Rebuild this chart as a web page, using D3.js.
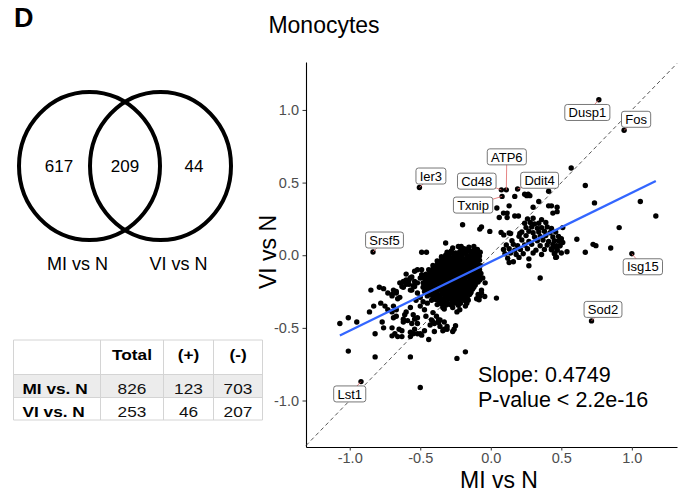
<!DOCTYPE html>
<html>
<head>
<meta charset="utf-8">
<script src="https://cdn.jsdelivr.net/npm/d3@7"></script>
<style>
  body { margin: 0; background: #fff; }
  svg { display: block; }
  text { font-family: "Liberation Sans", Arial, Helvetica, sans-serif; }
</style>
</head>
<body>
<svg id="fig" width="684" height="494"></svg>
<script>
// ---------------- data ----------------
const panelLetter = "D";
const plotTitle = "Monocytes";

// Venn: MI-only, shared, VI-only DEG counts
const vennSets = ["MI vs N", "VI vs N"];
const vennCounts = [617, 209, 44];

// DEG summary table
const tableHeader = ["", "Total", "(+)", "(-)"];
const tableRowNames = ["MI vs. N", "VI vs. N"];
const tableTotal = [826, 253];
const tableUp = [123, 46];
const tableDown = [703, 207];

// axis ticks
const axisTicks = [-1.0, -0.5, 0.0, 0.5, 1.0];
const xTitle = "MI vs N";
const yTitle = "VI vs N";

// linear fit of VI vs N on MI vs N
const fitSlope = 0.4749;
const fitIntercept = -0.045;
const fitText = ["Slope: 0.4749", "P-value < 2.2e-16"];

// labelled genes: [gene, log2FC MI vs N, log2FC VI vs N]
const labeledGenes = [
  ["Dusp1", 0.766, 1.07],
  ["Fos", 0.945, 0.86],
  ["ATP6", 0.11, 0.45],
  ["Cd48", 0.075, 0.45],
  ["Txnip", 0.08, 0.405],
  ["Ddit4", 0.19, 0.456],
  ["Ier3", -0.506, 0.466],
  ["Srsf5", -0.835, 0.022],
  ["Isg15", 1.0, 0.01],
  ["Sod2", 0.714, -0.452],
  ["Lst1", -0.92, -0.87]
];

// down-regulated core of shared genes: [MI vs N, VI vs N]
const coreGenes = [
  [-0.27,0.05],[-0.23,0.06],[-0.19,0.045],[-0.155,0.055],[-0.12,0.06],[-0.095,0.04],
  [-0.31,0.02],[-0.28,0.03],[-0.25,0.015],[-0.22,0.025],[-0.19,0.02],[-0.16,0.03],[-0.13,0.015],[-0.10,0.025],[-0.075,0.02],
  [-0.35,-0.01],[-0.32,0.0],[-0.29,-0.015],[-0.26,-0.005],[-0.23,-0.01],[-0.20,-0.02],[-0.17,-0.005],[-0.14,-0.01],[-0.11,-0.015],[-0.08,-0.005],
  [-0.38,-0.04],[-0.35,-0.035],[-0.32,-0.045],[-0.29,-0.04],[-0.26,-0.03],[-0.23,-0.045],[-0.20,-0.04],[-0.17,-0.035],[-0.14,-0.045],[-0.11,-0.04],[-0.08,-0.035],
  [-0.41,-0.07],[-0.38,-0.065],[-0.35,-0.075],[-0.32,-0.07],[-0.29,-0.06],[-0.26,-0.075],[-0.23,-0.07],[-0.20,-0.065],[-0.17,-0.075],[-0.14,-0.07],[-0.11,-0.06],[-0.075,-0.07],
  [-0.44,-0.10],[-0.41,-0.095],[-0.38,-0.105],[-0.35,-0.10],[-0.32,-0.09],[-0.29,-0.105],[-0.26,-0.10],[-0.23,-0.095],[-0.20,-0.105],[-0.17,-0.10],[-0.14,-0.09],[-0.11,-0.105],[-0.08,-0.10],
  [-0.46,-0.13],[-0.43,-0.125],[-0.40,-0.135],[-0.37,-0.13],[-0.34,-0.12],[-0.31,-0.135],[-0.28,-0.13],[-0.25,-0.125],[-0.22,-0.135],[-0.19,-0.13],[-0.16,-0.12],[-0.13,-0.135],[-0.10,-0.13],[-0.07,-0.125],
  [-0.47,-0.16],[-0.44,-0.155],[-0.41,-0.165],[-0.38,-0.16],[-0.35,-0.15],[-0.32,-0.165],[-0.29,-0.16],[-0.26,-0.155],[-0.23,-0.165],[-0.20,-0.16],[-0.17,-0.15],[-0.14,-0.165],[-0.11,-0.16],[-0.08,-0.155],
  [-0.48,-0.19],[-0.45,-0.185],[-0.42,-0.195],[-0.39,-0.19],[-0.36,-0.18],[-0.33,-0.195],[-0.30,-0.19],[-0.27,-0.185],[-0.24,-0.195],[-0.21,-0.19],[-0.18,-0.18],[-0.15,-0.195],[-0.12,-0.19],[-0.09,-0.185],
  [-0.48,-0.22],[-0.45,-0.215],[-0.42,-0.225],[-0.39,-0.22],[-0.36,-0.21],[-0.33,-0.225],[-0.30,-0.22],[-0.27,-0.215],[-0.24,-0.225],[-0.21,-0.22],[-0.18,-0.21],[-0.15,-0.225],[-0.12,-0.22],
  [-0.47,-0.25],[-0.44,-0.245],[-0.41,-0.255],[-0.38,-0.25],[-0.35,-0.24],[-0.32,-0.255],[-0.29,-0.25],[-0.26,-0.245],[-0.23,-0.255],[-0.20,-0.25],[-0.17,-0.24],[-0.14,-0.255],
  [-0.45,-0.28],[-0.42,-0.275],[-0.39,-0.285],[-0.36,-0.28],[-0.33,-0.27],[-0.30,-0.285],[-0.27,-0.28],[-0.24,-0.275],[-0.21,-0.285],[-0.18,-0.28],[-0.15,-0.27],
  [-0.42,-0.31],[-0.39,-0.305],[-0.36,-0.315],[-0.33,-0.31],[-0.30,-0.30],[-0.27,-0.315],[-0.24,-0.31],[-0.21,-0.305],[-0.18,-0.315],
  [-0.38,-0.34],[-0.35,-0.335],[-0.32,-0.345],[-0.29,-0.34],[-0.26,-0.33],[-0.23,-0.345]
];

// further shared genes packed inside the down-regulated core
const coreInfill = [
  [-0.21,0.035],[-0.175,0.04],[-0.145,0.03],[-0.115,0.04],
  [-0.295,0.005],[-0.265,0.01],[-0.235,0.0],[-0.205,0.005],[-0.175,0.01],[-0.145,0.0],[-0.115,0.005],[-0.09,0.01],
  [-0.335,-0.025],[-0.305,-0.02],[-0.275,-0.03],[-0.245,-0.02],[-0.215,-0.025],[-0.185,-0.03],[-0.155,-0.02],[-0.125,-0.025],[-0.095,-0.02],
  [-0.365,-0.055],[-0.335,-0.05],[-0.305,-0.06],[-0.275,-0.05],[-0.245,-0.055],[-0.215,-0.06],[-0.185,-0.05],[-0.155,-0.055],[-0.125,-0.05],[-0.095,-0.055],
  [-0.395,-0.085],[-0.365,-0.08],[-0.335,-0.09],[-0.305,-0.08],[-0.275,-0.085],[-0.245,-0.09],[-0.215,-0.08],[-0.185,-0.085],[-0.155,-0.08],[-0.125,-0.085],[-0.095,-0.08],
  [-0.425,-0.115],[-0.395,-0.11],[-0.365,-0.12],[-0.335,-0.11],[-0.305,-0.115],[-0.275,-0.12],[-0.245,-0.11],[-0.215,-0.115],[-0.185,-0.11],[-0.155,-0.115],[-0.125,-0.12],[-0.09,-0.115],
  [-0.445,-0.145],[-0.415,-0.14],[-0.385,-0.15],[-0.355,-0.14],[-0.325,-0.145],[-0.295,-0.15],[-0.265,-0.14],[-0.235,-0.145],[-0.205,-0.14],[-0.175,-0.145],[-0.145,-0.15],[-0.115,-0.14],[-0.09,-0.145],
  [-0.455,-0.175],[-0.425,-0.17],[-0.395,-0.18],[-0.365,-0.17],[-0.335,-0.175],[-0.305,-0.18],[-0.275,-0.17],[-0.245,-0.175],[-0.215,-0.17],[-0.185,-0.175],[-0.155,-0.18],[-0.125,-0.17],[-0.1,-0.175],
  [-0.465,-0.205],[-0.435,-0.2],[-0.405,-0.21],[-0.375,-0.2],[-0.345,-0.205],[-0.315,-0.21],[-0.285,-0.2],[-0.255,-0.205],[-0.225,-0.2],[-0.195,-0.205],[-0.165,-0.21],[-0.135,-0.2],[-0.11,-0.205],
  [-0.455,-0.235],[-0.425,-0.23],[-0.395,-0.24],[-0.365,-0.23],[-0.335,-0.235],[-0.305,-0.24],[-0.275,-0.23],[-0.245,-0.235],[-0.215,-0.23],[-0.185,-0.235],[-0.155,-0.24],[-0.13,-0.235],
  [-0.435,-0.265],[-0.405,-0.26],[-0.375,-0.27],[-0.345,-0.26],[-0.315,-0.265],[-0.285,-0.27],[-0.255,-0.26],[-0.225,-0.265],[-0.195,-0.26],[-0.165,-0.265],[-0.145,-0.26],
  [-0.405,-0.295],[-0.375,-0.29],[-0.345,-0.3],[-0.315,-0.29],[-0.285,-0.295],[-0.255,-0.3],[-0.225,-0.29],[-0.195,-0.295],[-0.165,-0.3],
  [-0.365,-0.325],[-0.335,-0.32],[-0.305,-0.33],[-0.275,-0.32],[-0.245,-0.325],[-0.215,-0.33]
];

// up-regulated cluster of shared genes
const upCluster = [
  [0.26,0.25],[0.30,0.255],[0.36,0.245],
  [0.24,0.22],[0.28,0.225],[0.31,0.215],[0.34,0.22],[0.39,0.225],
  [0.25,0.19],[0.29,0.195],[0.33,0.185],[0.36,0.19],[0.40,0.195],[0.43,0.185],
  [0.22,0.16],[0.27,0.165],[0.30,0.155],[0.34,0.16],[0.38,0.165],[0.42,0.155],[0.46,0.16],
  [0.20,0.13],[0.25,0.135],[0.31,0.125],[0.35,0.13],[0.39,0.135],[0.44,0.125],[0.48,0.13],
  [0.15,0.10],[0.22,0.105],[0.27,0.095],[0.33,0.10],[0.37,0.105],[0.41,0.095],[0.45,0.10],
  [0.11,0.07],[0.16,0.075],[0.19,0.065],[0.24,0.07],[0.29,0.075],[0.35,0.065],[0.40,0.07],[0.44,0.075],[0.49,0.065],
  [0.09,0.04],[0.13,0.045],[0.17,0.035],[0.21,0.04],[0.26,0.045],[0.32,0.035],[0.38,0.04],[0.43,0.045],[0.47,0.035],
  [0.10,0.01],[0.14,0.015],[0.18,0.005],[0.23,0.01],[0.30,0.015],[0.36,0.005],[0.45,0.01],[0.50,0.015],
  [0.12,-0.02],[0.20,-0.015],[0.27,-0.025],[0.46,-0.015],
  [0.13,-0.05],[0.16,-0.045]
];

// remaining genes
const otherGenes = [
  [0.57,0.60],[0.67,0.48],[0.735,0.36],[1.06,0.37],[1.17,0.27],[0.91,0.19],
  [0.41,0.44],[0.34,0.37],[0.41,0.34],[0.47,0.33],[0.30,0.33],[0.255,0.41],[0.277,0.41],
  [0.17,0.405],[0.13,0.34],[0.043,0.325],[0.09,0.29],[0.116,0.29],[0.06,0.26],[0.116,0.26],
  [0.196,0.27],[0.47,0.30],[0.44,0.29],[0.43,0.34],[0.24,0.42],[0.265,0.42],[0.17,0.27],
  [-0.2,0.21],[-0.066,0.195],[-0.078,0.18],[-0.007,0.164],[0.073,0.157],[0.092,0.14],[0.13,0.153],
  [0.14,0.15],[0.206,0.15],[-0.32,0.084],[-0.21,0.06],[-0.20,0.03],[-0.49,0.02],[-0.456,0.02],
  [0.51,0.19],[0.61,0.11],[0.67,0.02],[0.725,0.075],[0.745,0.066],[0.85,0.05],[0.54,0.024],
  [0.50,0.114],[0.51,0.088],[0.48,0.10],[0.466,0.066],[0.447,0.057],[0.47,0.038],[0.454,0.01],
  [0.466,-0.013],[0.43,0.038],[0.49,0.066],[0.27,-0.072],[0.35,-0.157],[0.04,-0.295],
  [-0.08,-0.284],[-0.043,-0.284],[-0.057,-0.157],[-0.066,-0.24],[-0.09,-0.27],[-0.078,-0.17],
  [-0.066,-0.26],[-0.083,-0.307],[-0.04,-0.19],[-0.1,-0.30],
  [-1.07,-0.47],[-1.01,-0.43],[-0.95,-0.46],[-1.01,-0.66],[-0.82,-0.70],[-0.82,-0.54],
  [-0.57,-0.70],[-0.50,-0.91],[-0.24,-0.71],[-0.18,-0.665],[-0.86,-0.39],[-0.83,-0.35],
  [-0.85,-0.24],[-0.79,-0.22],[-0.76,-0.23],[-0.78,-0.33],[-0.75,-0.35],[-0.73,-0.375],
  [-0.70,-0.39],[-0.77,-0.46],[-0.76,-0.50],[-0.69,-0.35],[-0.67,-0.375],[-0.69,-0.43],
  [-0.67,-0.42],[-0.70,-0.50],[-0.70,-0.555],[-0.66,-0.56],[-0.63,-0.56],[-0.65,-0.51],
  [-0.68,-0.54],[-0.63,-0.52],[-0.62,-0.44],[-0.59,-0.45],[-0.61,-0.41],[-0.60,-0.39],
  [-0.57,-0.36],[-0.62,-0.46],[-0.56,-0.47],[-0.57,-0.53],[-0.55,-0.54],[-0.57,-0.56],
  [-0.55,-0.41],[-0.52,-0.43],[-0.54,-0.44],[-0.52,-0.47],[-0.50,-0.54],[-0.47,-0.52],
  [-0.52,-0.54],[-0.54,-0.51],[-0.44,-0.58],[-0.40,-0.525],[-0.34,-0.52],[-0.31,-0.51],
  [-0.26,-0.51],[-0.43,-0.48],[-0.41,-0.457],[-0.37,-0.463],[-0.33,-0.51],[-0.27,-0.525],
  [-0.25,-0.485],[-0.49,-0.55],[-0.33,-0.37],[-0.27,-0.36],[-0.24,-0.39],[-0.37,-0.445],
  [-0.31,-0.49],[-0.47,-0.375],[-0.46,-0.42],[-0.42,-0.445],[-0.40,-0.47],[-0.385,-0.42],
  [-0.41,-0.395],[-0.36,-0.445],[-0.34,-0.36],[-0.33,-0.46],[-0.36,-0.49],
  [-0.16,-0.31],[-0.17,-0.33],[-0.18,-0.35],[-0.22,-0.375],[-0.27,-0.33],
  [-0.73,-0.26],[-0.70,-0.28],[-0.67,-0.25],[-0.645,-0.29],[-0.66,-0.30],[-0.69,-0.24],
  [-0.70,-0.27],[-0.67,-0.26],[-0.63,-0.215],[-0.645,-0.19],[-0.62,-0.18],[-0.60,-0.17],
  [-0.57,-0.157],[-0.58,-0.20],[-0.56,-0.24],[-0.54,-0.215],[-0.52,-0.19],[-0.50,-0.157],
  [-0.49,-0.134],[-0.52,-0.10],[-0.54,-0.11],[-0.49,-0.10],[-0.56,-0.15],[-0.58,-0.17],
  [-0.60,-0.13],[-0.62,-0.22],[-0.60,-0.20],[-0.57,-0.24],[-0.55,-0.21],[-0.54,-0.18],
  [-0.52,-0.26],[-0.50,-0.29],[-0.53,-0.31],[-0.48,-0.32],[-0.50,-0.35],[-0.45,-0.33]
];

// ---------------- layout ----------------
const svg = d3.select("#fig");
const plot = { left: 306, right: 677, top: 62, bottom: 447 };

// label box offsets from their point, in pixels
const labelNudge = {
  Dusp1: [-11.5, 12.7], Fos: [12, -11], ATP6: [0.5, -33], Cd48: [-24.6, -8.7],
  Txnip: [-29, 8.7], Ddit4: [22, -8.7], Ier3: [11.5, -11.5], Srsf5: [11.5, -12],
  Isg15: [11, 13], Sod2: [11.5, -11.5], Lst1: [-11.3, 12.3]
};

// ---------------- header ----------------
svg.append("text").attr("x", 14).attr("y", 27)
  .attr("font-size", 27).attr("font-weight", "bold").text(panelLetter);
svg.append("text").attr("x", 324).attr("y", 33)
  .attr("text-anchor", "middle").attr("font-size", 23).text(plotTitle);

// ---------------- Venn diagram ----------------
const venn = svg.append("g");
const vennCx = [89.5, 160.5], vennCy = 166;
venn.selectAll("ellipse").data(vennCx).join("ellipse")
  .attr("cx", d => d).attr("cy", vennCy).attr("rx", 70.5).attr("ry", 74)
  .attr("fill", "none").attr("stroke", "#000").attr("stroke-width", 4);
const countX = [vennCx[0] - 30.5, (vennCx[0] + vennCx[1]) / 2, vennCx[1] + 33.5];
venn.selectAll("text.count").data(vennCounts).join("text")
  .attr("class", "count")
  .attr("x", (d, i) => countX[i]).attr("y", vennCy).attr("dy", "0.36em")
  .attr("text-anchor", "middle").attr("font-size", 17).text(d => d);
venn.selectAll("text.setname").data(vennSets).join("text")
  .attr("class", "setname")
  .attr("x", (d, i) => [77.5, 178.5][i]).attr("y", 270)
  .attr("text-anchor", "middle").attr("font-size", 18).text(d => d);

// ---------------- summary table ----------------
const tbl = svg.append("g");
const colEdges = [13.5, 100.5, 163.5, 213.5, 262.5];
const rowEdges = [340, 374.5, 397.5, 420];
const gridColor = "#d4d4d4";
tbl.append("rect").attr("x", colEdges[0]).attr("y", rowEdges[1])
  .attr("width", colEdges[4] - colEdges[0]).attr("height", rowEdges[2] - rowEdges[1])
  .attr("fill", "#ececec");
tbl.selectAll("line.v").data(colEdges).join("line").attr("class", "v")
  .attr("x1", d => d).attr("x2", d => d).attr("y1", rowEdges[0]).attr("y2", rowEdges[3])
  .attr("stroke", gridColor).attr("stroke-width", 1);
tbl.selectAll("line.h").data(rowEdges).join("line").attr("class", "h")
  .attr("x1", colEdges[0]).attr("x2", colEdges[4]).attr("y1", d => d).attr("y2", d => d)
  .attr("stroke", gridColor).attr("stroke-width", 1);
const colCenter = i => (colEdges[i] + colEdges[i + 1]) / 2;
const stretch = "scale(1.15,1)";
tableHeader.forEach((h, i) => {
  if (!h) return;
  tbl.append("text").attr("transform", `translate(${colCenter(i)},360) ${stretch}`)
    .attr("text-anchor", "middle").attr("font-size", 15).attr("font-weight", "bold").text(h);
});
const rowBase = [394, 416.5];
tableRowNames.forEach((name, r) => {
  tbl.append("text").attr("transform", `translate(22.5,${rowBase[r]}) ${stretch}`)
    .attr("font-size", 15).attr("font-weight", "bold").text(name);
  [tableTotal[r], tableUp[r], tableDown[r]].forEach((v, c) => {
    tbl.append("text").attr("transform", `translate(${colCenter(c + 1)},${rowBase[r]}) ${stretch}`)
      .attr("text-anchor", "middle").attr("font-size", 15).attr("fill", "#111").text(v);
  });
});

// ---------------- scatter plot ----------------
const x = d3.scaleLinear().domain([-1.31, 1.32]).range([plot.left, plot.right]);
const y = d3.scaleLinear().domain([-1.32, 1.33]).range([plot.bottom, plot.top]);

const fmt = d => d.toFixed(1);
const gx = svg.append("g").attr("transform", `translate(0,${plot.bottom})`)
  .call(d3.axisBottom(x).tickValues(axisTicks).tickFormat(fmt).tickSize(3.5).tickSizeOuter(0).tickPadding(2.5));
const gy = svg.append("g").attr("transform", `translate(${plot.left},0)`)
  .call(d3.axisLeft(y).tickValues(axisTicks).tickFormat(fmt).tickSize(3.5).tickSizeOuter(0).tickPadding(3.5));
[gx, gy].forEach(g => {
  g.select(".domain").attr("stroke", "#000").attr("stroke-width", 1.1);
  g.selectAll(".tick line").attr("stroke", "#333").attr("stroke-width", 1);
  g.selectAll(".tick text").attr("fill", "#4d4d4d").attr("font-size", 14.5)
    .attr("font-family", '"Liberation Sans", Arial, sans-serif');
});

svg.append("text").attr("x", 499).attr("y", 488).attr("text-anchor", "middle")
  .attr("font-size", 23).text(xTitle);
svg.append("text").attr("transform", "translate(276,252) rotate(-90)")
  .attr("text-anchor", "middle").attr("font-size", 23).text(yTitle);

// identity line y = x
const lo = Math.max(x.domain()[0], y.domain()[0]);
const hi = Math.min(x.domain()[1], y.domain()[1]);
svg.append("line")
  .attr("x1", x(lo)).attr("y1", y(lo)).attr("x2", x(hi)).attr("y2", y(hi))
  .attr("stroke", "#444").attr("stroke-width", 0.9).attr("stroke-dasharray", "4,3");

// genes
const labeled = labeledGenes.map(([gene, mi, vi]) => ({ gene, mi, vi }));
const allPoints = coreGenes.concat(coreInfill, upCluster, otherGenes, labeled.map(d => [d.mi, d.vi]));
svg.append("g").selectAll("circle").data(allPoints).join("circle")
  .attr("cx", d => x(d[0])).attr("cy", d => y(d[1])).attr("r", 2.7).attr("fill", "#000");

// regression line over the MI range
const xr = d3.extent(allPoints, d => d[0]);
svg.append("line")
  .attr("x1", x(xr[0])).attr("y1", y(fitIntercept + fitSlope * xr[0]))
  .attr("x2", x(xr[1])).attr("y2", y(fitIntercept + fitSlope * xr[1]))
  .attr("stroke", "#3366FF").attr("stroke-width", 2.3);

// gene labels with leader segments
const lab = svg.append("g");
labeled.forEach(d => {
  const px = x(d.mi), py = y(d.vi);
  const [dx, dy] = labelNudge[d.gene];
  const cx = px + dx, cy = py + dy;
  lab.append("line").attr("x1", px).attr("y1", py).attr("x2", cx).attr("y2", cy)
    .attr("stroke", "#e06666").attr("stroke-width", 0.8);
  const box = lab.append("rect");
  const t = lab.append("text").attr("x", cx).attr("y", cy).attr("dy", "0.36em")
    .attr("text-anchor", "middle").attr("font-size", 13).text(d.gene);
  const w = t.node().getComputedTextLength() + 7.5;
  box.attr("x", cx - w / 2).attr("y", cy - 8).attr("width", w).attr("height", 16)
    .attr("rx", 2.5).attr("fill", "#fff").attr("stroke", "#555").attr("stroke-width", 0.8);
});

// fit annotation
fitText.forEach((s, i) => {
  svg.append("text").attr("x", 478).attr("y", 382 + i * 24.5)
    .attr("font-size", 21.5).text(s);
});
</script>
</body>
</html>
